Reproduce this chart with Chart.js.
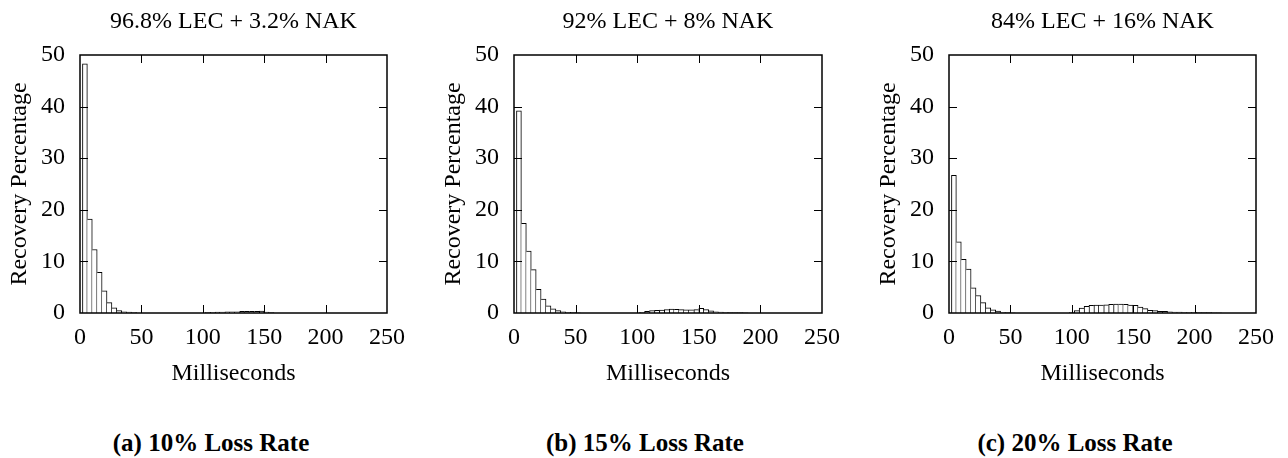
<!DOCTYPE html>
<html lang="en">
<head>
    <meta charset="UTF-8">
    <title>Recovery latency histograms</title>
    <script src="https://cdn.jsdelivr.net/npm/chart.js@4.4.0/dist/chart.umd.min.js"></script>
    <style>
      html, body { margin: 0; padding: 0; background: #fff; overflow: hidden; }
      body { width: 1288px; height: 458px; position: relative; }
      .panel { position: absolute; top: 0; height: 400px; }
      .caption, .head {
        position: absolute; width: 320px; text-align: center; color: #000;
      }
      .caption { top: 430px; font: bold 25px "Liberation Serif", serif; line-height: 25px; }
      .head { top: 8px; font: 24px "Liberation Serif", serif; line-height: 24px; }
    </style>
</head>
<body>
    <div class="panel" id="p0"><canvas id="c0"></canvas></div>
    <div class="panel" id="p1"><canvas id="c1"></canvas></div>
    <div class="panel" id="p2"><canvas id="c2"></canvas></div>

    <script>
      // histogram bin centres (ms), 4 ms wide
      const binMs = [4, 8, 12, 16, 20, 24, 28, 32, 36, 40, 44, 48, 52, 56, 60, 64, 68, 72, 76, 80,
        84, 88, 92, 96, 100, 104, 108, 112, 116, 120, 124, 128, 132, 136, 140, 144, 148, 152, 156, 160,
        164, 168, 172, 176, 180, 184, 188, 192, 196, 200, 204, 208, 212, 216, 220, 224];

      // recovery percentage per bin
      const loss10 = [48.3, 18.2, 12.3, 7.9, 4.3, 2.0, 1.0, 0.45, 0.25, 0.2, 0.15,
        0, 0, 0, 0, 0, 0, 0, 0, 0, 0, 0, 0, 0, 0,
        0.1, 0.15, 0.2, 0.2, 0.25, 0.25, 0.25, 0.3, 0.3, 0.3, 0.3, 0.35, 0.2, 0.1,
        0, 0, 0, 0, 0, 0, 0, 0, 0, 0, 0, 0, 0, 0, 0, 0];
      const loss15 = [39.2, 17.4, 12.0, 8.4, 4.6, 2.7, 1.4, 0.8, 0.45, 0.25, 0.15, 0.1, 0.05,
        0, 0, 0, 0, 0, 0, 0, 0, 0, 0, 0, 0,
        0.15, 0.3, 0.45, 0.5, 0.55, 0.65, 0.75, 0.7, 0.65, 0.6, 0.6, 0.65, 0.9, 0.65, 0.4,
        0.25, 0.2, 0.15, 0.1, 0.1, 0.1, 0.05,
        0, 0, 0, 0, 0, 0, 0, 0, 0];
      const loss20 = [26.7, 13.8, 10.4, 8.5, 4.9, 3.4, 2.0, 1.0, 0.6, 0.35, 0.15, 0.1, 0.05,
        0, 0, 0, 0, 0, 0, 0, 0, 0, 0, 0,
        0.1, 0.45, 0.95, 1.3, 1.5, 1.55, 1.55, 1.6, 1.7, 1.75, 1.75, 1.7, 1.55, 1.5, 1.15, 0.85,
        0.5, 0.45, 0.3, 0.3, 0.25, 0.2, 0.2, 0.15, 0.15, 0.15, 0.1, 0.1, 0.1, 0.05, 0.05,
        0];

      const titles = ['96.8% LEC + 3.2% NAK', '92% LEC + 8% NAK', '84% LEC + 16% NAK'];
      const captions = ['(a) 10% Loss Rate', '(b) 15% Loss Rate', '(c) 20% Loss Rate'];
      const xTicks = [0, 50, 100, 150, 200, 250];
      const yTicks = [0, 10, 20, 30, 40, 50];

      const series = [loss10, loss15, loss20];
      const plotLeft = [80, 514, 949];
      const plotWidth = [307, 308, 307];
      const captionCentre = [211, 645, 1075];

      const serif = '"Liberation Serif", "Times New Roman", serif';
      const font = { family: serif, size: 24, weight: 'normal' };
      Chart.defaults.color = '#000';
      Chart.defaults.font.family = serif;

      // box round the plot with gnuplot-style inward ticks
      const frame = {
        id: 'frame',
        afterDatasetsDraw(chart) {
          const { ctx, chartArea: a, scales: { x, y } } = chart;
          ctx.save();
          ctx.strokeStyle = '#000';
          ctx.lineWidth = 1;
          ctx.beginPath();
          x.ticks.forEach(t => {
            if (t.value <= x.min || t.value >= x.max) return;
            const px = Math.round(x.getPixelForValue(t.value)) + 0.5;
            ctx.moveTo(px, a.bottom); ctx.lineTo(px, a.bottom - 8);
            ctx.moveTo(px, a.top); ctx.lineTo(px, a.top + 8);
          });
          y.ticks.forEach(t => {
            if (t.value <= y.min || t.value >= y.max) return;
            const py = Math.round(y.getPixelForValue(t.value)) + 0.5;
            ctx.moveTo(a.left, py); ctx.lineTo(a.left + 8, py);
            ctx.moveTo(a.right, py); ctx.lineTo(a.right - 8, py);
          });
          ctx.stroke();
          ctx.lineWidth = 1.5;
          ctx.strokeRect(a.left, a.top, a.right - a.left, a.bottom - a.top);
          ctx.restore();
        }
      };

      function edges(vals) {
        // shared edges drawn once, by the taller neighbour
        return c => {
          const i = c.dataIndex;
          const v = vals[i];
          if (!v) return 0;
          const prev = i > 0 ? vals[i - 1] : 0;
          const next = i < vals.length - 1 ? vals[i + 1] : 0;
          return { top: 1, bottom: 0, left: prev < v ? 1 : 0, right: next <= v ? 1 : 0 };
        };
      }

      function addText(cls, text, centre) {
        const d = document.createElement('div');
        d.className = cls;
        d.textContent = text;
        d.style.left = (centre - 160) + 'px';
        document.body.appendChild(d);
      }

      series.forEach((vals, k) => {
        const box = document.getElementById('p' + k);
        box.style.left = (plotLeft[k] - 80) + 'px';
        box.style.width = (plotWidth[k] + 160) + 'px';

        addText('head', titles[k], plotLeft[k] + plotWidth[k] / 2);
        addText('caption', captions[k], captionCentre[k]);

        new Chart(document.getElementById('c' + k), {
          type: 'bar',
          data: {
            datasets: [{
              data: binMs.map((ms, i) => ({ x: ms, y: vals[i] })),
              backgroundColor: '#fff',
              borderColor: '#000',
              borderWidth: edges(vals),
              borderSkipped: false,
              barPercentage: 1,
              categoryPercentage: 1
            }]
          },
          options: {
            responsive: true,
            maintainAspectRatio: false,
            animation: false,
            layout: { padding: { left: 0, right: 80, top: 55, bottom: 0 } },
            plugins: {
              legend: { display: false },
              tooltip: { enabled: false }
            },
            scales: {
              x: {
                type: 'linear',
                min: xTicks[0],
                max: xTicks[xTicks.length - 1],
                offset: false,
                grid: { display: false, drawTicks: false, offset: false },
                border: { display: false },
                afterBuildTicks: s => { s.ticks = xTicks.map(v => ({ value: v })); },
                ticks: { font: font, color: '#000', padding: 10.6, maxRotation: 0, autoSkip: false },
                title: { display: true, text: 'Milliseconds', font: font, color: '#000', padding: { top: 0, bottom: 11.6 } },
                afterFit: s => { s.height = 87; }
              },
              y: {
                min: yTicks[0],
                max: yTicks[yTicks.length - 1],
                grid: { display: false, drawTicks: false },
                border: { display: false },
                afterBuildTicks: s => { s.ticks = yTicks.map(v => ({ value: v })); },
                ticks: { font: font, color: '#000', padding: 15 },
                title: { display: true, text: 'Recovery Percentage', font: font, color: '#000', padding: { top: 5.6, bottom: 0 } },
                afterFit: s => { s.width = 80; }
              }
            }
          },
          plugins: [frame]
        });
      });
    </script>
</body>
</html>
